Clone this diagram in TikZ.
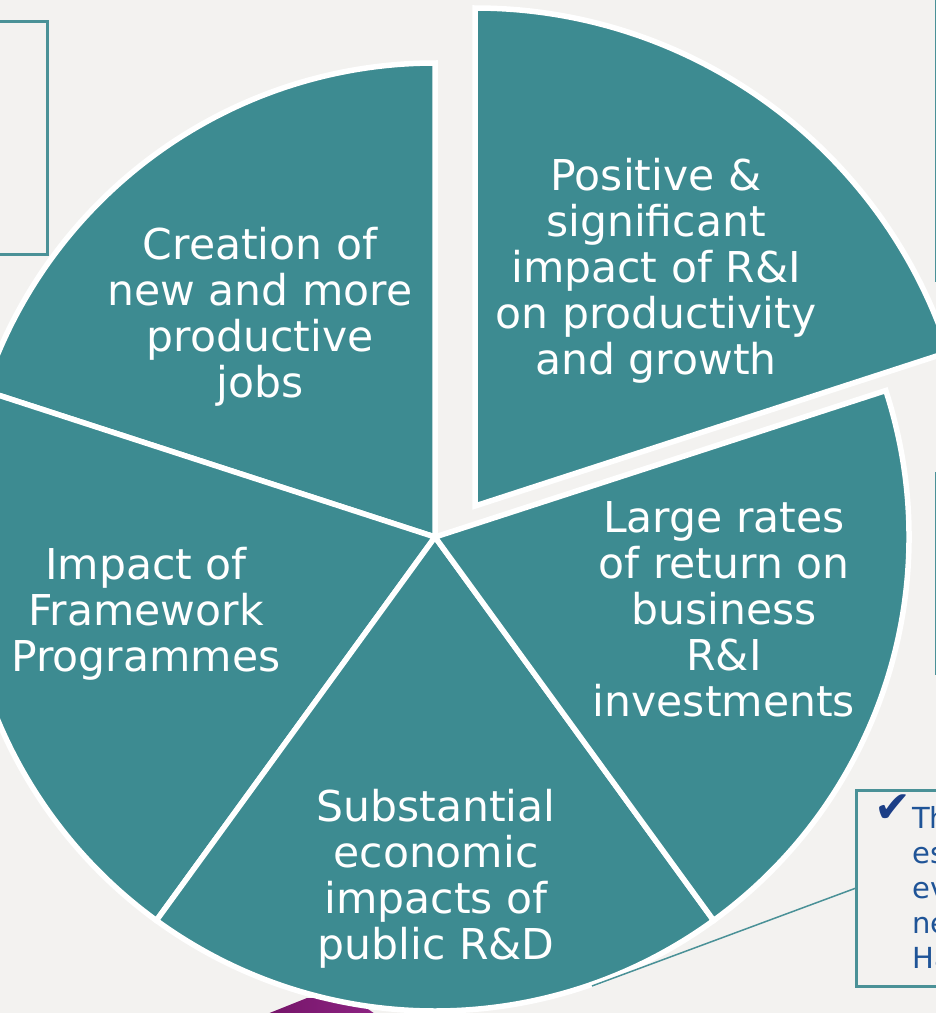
\documentclass[tikz,border=0pt]{standalone}
\usepackage{fontspec}
\setmainfont{DejaVu Sans}
\newfontfamily\symf{DejaVu Sans}
\definecolor{tealfill}{HTML}{3D8B91}
\definecolor{bgcol}{HTML}{F3F2F0}
\definecolor{boxline}{HTML}{4A9197}
\definecolor{txtblue}{HTML}{1F5497}
\definecolor{chkblue}{HTML}{1C3F87}
\definecolor{purpA}{HTML}{741468}
\definecolor{purpB}{HTML}{8E2483}
\tikzset{
  slice/.style={fill=tealfill, draw=white, line width=5.5pt, line join=miter},
  boxst/.style={draw=boxline, line width=2.8pt, fill=bgcol},
  lbl/.style={text=white, align=center, inner sep=0pt,
    font=\fontsize{42.5}{46}\selectfont},
  notetxt/.style={text=txtblue, align=left, inner sep=0pt,
    font=\symf\fontsize{29}{35}\selectfont},
  leader/.style={draw=boxline, line width=1.5pt}
}
\begin{document}
\begin{tikzpicture}[x=1pt,y=1pt]
\useasboundingbox (0,-1013) rectangle (936,0);
\clip (0,-1013) rectangle (936,0);
\fill[bgcol] (0,-1013) rectangle (936,0);

% purple shape at bottom (behind pie)
\path[left color=purpA, right color=purpB] (262,-1016) -- (307,-998) -- (352,-998) -- (378,-1016) -- cycle;

% side boxes (mostly outside the picture)
\node[boxst, anchor=north east, minimum width=80pt, minimum height=233pt, inner sep=0pt] (boxTL) at (49,-20) {};
\node[boxst, anchor=south west, minimum width=60pt, minimum height=300pt, inner sep=0pt] (boxTR) at (935,-282) {};
\node[boxst, anchor=north west, minimum width=60pt, minimum height=200pt, inner sep=0pt] (boxMR) at (935,-472) {};
\node[boxst, anchor=north west, minimum width=120pt, minimum height=196pt, inner sep=0pt] (boxBR) at (855,-789) {};

% pie
\coordinate (c0) at (435,-537);
\coordinate (c1) at (475,-506);
\path[slice] (c0) -- ++(90:474) arc[start angle=90, end angle=162, radius=474] -- cycle;
\path[slice] (c0) -- ++(162:474) arc[start angle=162, end angle=234, radius=474] -- cycle;
\path[slice] (c0) -- ++(234:474) arc[start angle=234, end angle=306, radius=474] -- cycle;
\path[slice] (c0) -- ++(306:474) arc[start angle=306, end angle=378, radius=474] -- cycle;
\path[slice] (c1) -- ++(18:498) arc[start angle=18, end angle=90, radius=498] -- cycle;

% leader line from note box to pie
\coordinate (tip) at (592,-986);
\draw[leader] (boxBR.west) -- (tip);

% labels
\node[lbl] (jobs) at (260,-317) {Creation of\\new and more\\productive\\jobs};
\node[lbl] (prod) at (656,-271) {Positive \&\\significant\\impact of R\&I\\on productivity\\and growth};
\node[lbl] (rates) at (724,-609) {Large rates\\of return on\\business\\R\&I\\investments};
\node[lbl] (fp) at (146,-614) {Impact of\\Framework\\Programmes};
\node[lbl] (pub) at (436,-879) {Substantial\\economic\\impacts of\\public R\&D};

% note text
\node[text=chkblue, inner sep=0pt, font=\symf\fontsize{44}{44}\selectfont] (chk) at (893,-809) {✔};
\node[notetxt, anchor=north west] (note) at (912,-806) {Th\\es\\ev\\ne\\Ha};
\end{tikzpicture}
\end{document}
